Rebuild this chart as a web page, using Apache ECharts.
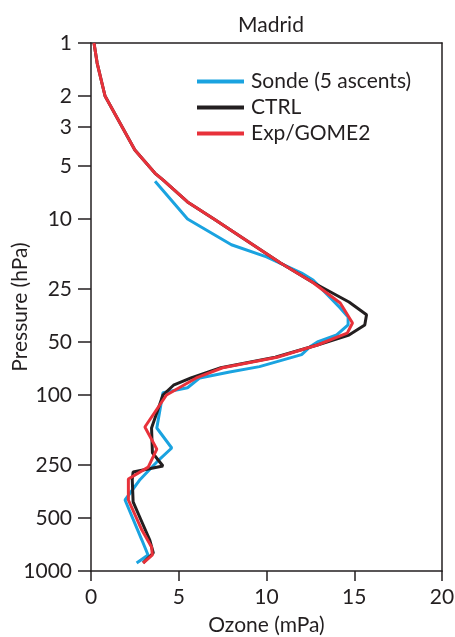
<!DOCTYPE html>
<html>
<head>
<meta charset="utf-8">
<script src="https://cdn.jsdelivr.net/npm/echarts@6/dist/echarts.min.js"></script>
<style>
  html, body { margin: 0; padding: 0; background: #fff; }
  #chart { width: 455px; height: 637px; }
</style>
</head>
<body>
<div id="chart"></div>
<script>
var myChart = echarts.init(document.getElementById('chart'), null, { renderer: 'canvas' });

// pressure levels (hPa) and ozone partial pressure (mPa)
var sondeP = [6.1, 10, 14, 16.4, 20.3, 22.2, 32, 36, 40, 45.6, 50, 53, 59, 69, 74, 80, 91, 97, 154, 200, 240, 302, 395, 667, 811, 900];
var sondeO3 = [3.65, 5.5, 8.0, 10.0, 12.0, 12.65, 14.2, 14.65, 14.65, 14.0, 12.9, 12.5, 12.0, 9.6, 7.9, 6.2, 5.5, 4.1, 3.75, 4.6, 3.75, 2.8, 1.94, 2.9, 3.25, 2.6];

var ctrlP = [1, 1.3, 2, 4.05, 5.5, 6.0, 8.0, 10.1, 17.8, 22.8, 29.6, 35, 40, 45.6, 52, 61, 70, 80, 88, 100, 154, 213, 253, 274, 302, 405, 500, 667, 790, 900];
var ctrlO3 = [0.17, 0.35, 0.8, 2.5, 3.65, 4.1, 5.5, 7.07, 10.8, 12.6, 14.7, 15.7, 15.6, 14.7, 12.9, 10.5, 7.4, 5.7, 4.7, 4.1, 3.45, 3.5, 4.1, 2.4, 2.35, 2.4, 2.8, 3.35, 3.55, 2.97];

var expP = [1, 1.3, 2, 4.05, 5.5, 6.0, 8.0, 10.1, 17.8, 22.8, 30, 39, 44.5, 52, 61, 70, 80, 100, 152, 203, 257, 300, 395, 585, 731, 811, 901];
var expO3 = [0.17, 0.35, 0.8, 2.5, 3.65, 4.1, 5.5, 7.07, 10.8, 12.6, 14.2, 14.9, 14.6, 12.9, 10.6, 7.5, 6.0, 4.3, 3.07, 3.75, 3.26, 2.13, 2.13, 2.9, 3.45, 3.5, 2.97];

var pressureTicks = [1, 2, 3, 5, 10, 25, 50, 100, 250, 500, 1000];
var ozoneTicks = [0, 5, 10, 15, 20];

var seriesNames = ['Sonde (5 ascents)', 'CTRL', 'Exp/GOME2'];
var colors = ['#1aa3e0', '#231f20', '#e8313a'];
var textColor = '#231f20';
var fontFam = 'Lato, sans-serif';
var fontSize = 21;

function toPoints(o3, p) {
    return o3.map(function (v, i) {
        return [v, Math.log10(p[i])];
    });
}

var logTicks = pressureTicks.map(function (p) { return Math.log10(p); });

// plain frame axes for the top and right edges
var frameLine = { show: true, onZero: false, lineStyle: { color: textColor, width: 1.5 } };

var option = {
    animation: false,
    backgroundColor: '#fff',
    title: {
        text: 'Madrid',
        left: 266,
        textAlign: 'center',
        top: 10,
        textStyle: { color: textColor, fontSize: fontSize, fontWeight: 'normal', fontFamily: fontFam }
    },
    legend: {
        orient: 'vertical',
        left: 192,
        top: 66,
        itemWidth: 47,
        itemHeight: 4,
        itemGap: 5,
        icon: 'rect',
        textStyle: { color: textColor, fontSize: fontSize, fontFamily: fontFam, lineHeight: 21, padding: [0, 0, 0, 2] },
        data: seriesNames
    },
    grid: {
        show: false,
        left: 91,
        right: 13,
        top: 43,
        bottom: 66,
        outerBoundsMode: 'none',
        containLabel: false
    },
    xAxis: [{
        type: 'value',
        min: 0,
        max: 20,
        interval: 5,
        name: 'Ozone (mPa)',
        nameLocation: 'middle',
        nameGap: 44,
        nameMoveOverlap: false,
        nameTextStyle: { color: textColor, fontSize: fontSize, fontFamily: fontFam },
        axisLine: { onZero: false, lineStyle: { color: textColor, width: 1.5 } },
        axisTick: { length: 10, lineStyle: { color: textColor, width: 1.5 } },
        axisLabel: {
            color: textColor, fontSize: fontSize, fontFamily: fontFam, margin: 16,
            customValues: ozoneTicks
        },
        splitLine: { show: false }
    }, {
        type: 'value',
        position: 'top',
        min: 0,
        max: 20,
        axisLine: frameLine,
        axisTick: { show: false },
        axisLabel: { show: false },
        splitLine: { show: false }
    }],
    yAxis: [{
        type: 'value',
        inverse: true,
        min: 0,
        max: 3,
        name: 'Pressure (hPa)',
        nameLocation: 'middle',
        nameGap: 60,
        nameMoveOverlap: false,
        nameTextStyle: { color: textColor, fontSize: fontSize, fontFamily: fontFam },
        axisLine: { onZero: false, lineStyle: { color: textColor, width: 1.5 } },
        axisTick: { length: 13, customValues: logTicks, lineStyle: { color: textColor, width: 1.5 } },
        axisLabel: {
            color: textColor, fontSize: fontSize, fontFamily: fontFam, margin: 19,
            customValues: logTicks,
            formatter: function (v) { return String(Math.round(Math.pow(10, v))); }
        },
        splitLine: { show: false }
    }, {
        type: 'value',
        position: 'right',
        inverse: true,
        min: 0,
        max: 3,
        axisLine: frameLine,
        axisTick: { show: false },
        axisLabel: { show: false },
        splitLine: { show: false }
    }],
    series: [
        {
            name: seriesNames[0], type: 'line', showSymbol: false,
            lineStyle: { width: 3, color: colors[0] }, itemStyle: { color: colors[0] },
            data: toPoints(sondeO3, sondeP)
        },
        {
            name: seriesNames[1], type: 'line', showSymbol: false,
            lineStyle: { width: 3, color: colors[1] }, itemStyle: { color: colors[1] },
            data: toPoints(ctrlO3, ctrlP)
        },
        {
            name: seriesNames[2], type: 'line', showSymbol: false,
            lineStyle: { width: 3, color: colors[2] }, itemStyle: { color: colors[2] },
            data: toPoints(expO3, expP)
        }
    ]
};

myChart.setOption(option);
window.addEventListener('resize', myChart.resize);
</script>
</body>
</html>
